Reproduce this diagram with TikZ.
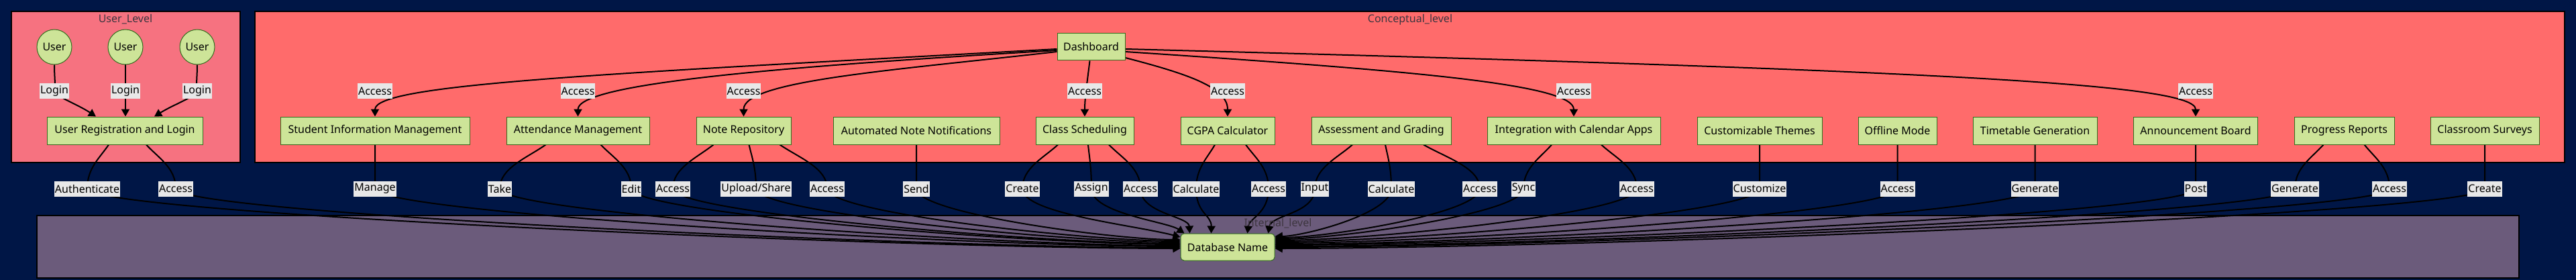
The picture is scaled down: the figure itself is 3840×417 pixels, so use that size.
\documentclass[tikz,border=0pt]{standalone}
\usepackage{fontspec}
\setmainfont{Noto Sans}
\usetikzlibrary{arrows.meta,calc}
\pgfdeclarelayer{back}
\pgfdeclarelayer{edges}
\pgfsetlayers{back,edges,main}
\definecolor{bgnavy}{RGB}{0,22,70}
\definecolor{userbg}{RGB}{246,114,128}
\definecolor{concbg}{RGB}{255,107,107}
\definecolor{intbg}{RGB}{107,91,123}
\definecolor{nodefill}{RGB}{205,228,152}
\definecolor{nodeline}{RGB}{50,110,30}
\definecolor{lblbg}{RGB}{232,232,232}
\definecolor{titlecol}{RGB}{62,54,64}
\tikzset{
  every node/.style={font=\fontsize{16pt}{19pt}\selectfont},
  boxnode/.style={rectangle, fill=nodefill, draw=nodeline, line width=1pt, minimum height=41pt, inner xsep=2pt, inner ysep=0pt, text=black},
  usernode/.style={circle, fill=nodefill, draw=nodeline, line width=1pt, minimum size=52pt, inner sep=0pt, text=black},
  dbnode/.style={boxnode, rounded corners=5pt, minimum height=40pt},
  lbl/.style={fill=lblbg, inner xsep=1pt, inner ysep=0pt, minimum height=23pt, text=black},
  cluster/.style={draw=black, line width=2pt},
  ctitle/.style={text=titlecol},
  conn/.style={draw=black, line width=2pt, -{Triangle[length=11pt,width=12pt]}},
}
% #1 src node, #2 src dx, #3 c1x, #4 label x, #5 label node, #6 c2x, #7 c2y, #8 target
\newcommand{\ledge}[8]{%
  \draw[conn] ([xshift=#2pt]#1.south) .. controls (#3,235) and (#4,250) .. (#5.center)
     .. controls (#4,318) and (#6,#7) .. (#8);
}
\begin{document}
\begin{tikzpicture}[x=1pt,y=-1pt]
\useasboundingbox (0,0) rectangle (3840,417);
\begin{pgfonlayer}{back}
  \fill[bgnavy] (0,0) rectangle (3840,417);
  \filldraw[cluster, fill=userbg] (17,17) rectangle (358,242);
  \filldraw[cluster, fill=concbg] (380,17) rectangle (3823,242);
  \filldraw[cluster, fill=intbg] (55,321) rectangle (3755,414);
\end{pgfonlayer}

% cluster titles
\node[ctitle] (tuser) at (187,29) {User\_Level};
\node[ctitle] (tconc) at (2102,29) {Conceptual\_level};
\node[ctitle] (tint) at (1905,333) {Internal\_level};

% user level
\node[usernode] (u1) at (81,70) {User};
\node[usernode] (u2) at (187,70) {User};
\node[usernode] (u3) at (294,70) {User};
\node[boxnode, minimum width=232pt] (url) at (186,194.5) {User Registration and Login};

% conceptual level
\node[boxnode, minimum width=101pt, minimum height=40pt] (dash) at (1626.5,70) {Dashboard};
\node[boxnode, minimum width=282pt] (sim) at (559,194.5) {Student Information Management};
\node[boxnode, minimum width=213pt] (att) at (861.5,194.5) {Attendance Management};
\node[boxnode, minimum width=141pt] (note) at (1108.5,194.5) {Note Repository};
\node[boxnode, minimum width=248pt] (auto) at (1366,194.5) {Automated Note Notifications};
\node[boxnode, minimum width=146pt] (cs) at (1617,194.5) {Class Scheduling};
\node[boxnode, minimum width=140pt] (cgpa) at (1830,194.5) {CGPA Calculator};
\node[boxnode, minimum width=208pt] (ass) at (2059,194.5) {Assessment and Grading};
\node[boxnode, minimum width=258pt] (int) at (2346,194.5) {Integration with Calendar Apps};
\node[boxnode, minimum width=186pt] (cust) at (2623,194.5) {Customizable Themes};
\node[boxnode, minimum width=117pt] (off) at (2828.5,194.5) {Offline Mode};
\node[boxnode, minimum width=185pt] (tt) at (3033.5,194.5) {Timetable Generation};
\node[boxnode, minimum width=185pt] (ann) at (3273,194.5) {Announcement Board};
\node[boxnode, minimum width=149pt] (prog) at (3494.5,194.5) {Progress Reports};
\node[boxnode, minimum width=162pt] (cls) at (3704,194.5) {Classroom Surveys};

% internal level
\node[dbnode, minimum width=140pt] (db) at (1830,368) {Database Name};

% labels: login
\node[lbl] (lg1) at (81,135.5) {Login};
\node[lbl] (lg2) at (187,135.5) {Login};
\node[lbl] (lg3) at (294,135.5) {Login};
% labels: dashboard access
\node[lbl] (a1) at (559,135.5) {Access};
\node[lbl] (a2) at (861.5,135.5) {Access};
\node[lbl] (a3) at (1108.5,135.5) {Access};
\node[lbl] (a4) at (1617,135.5) {Access};
\node[lbl] (a5) at (1830,135.5) {Access};
\node[lbl] (a6) at (2346,135.5) {Access};
\node[lbl] (a7) at (3273,135.5) {Access};
% labels: to database
\node[lbl] (b1) at (130,281) {Authenticate};
\node[lbl] (b2) at (262,281) {Access};
\node[lbl] (b3) at (559,281) {Manage};
\node[lbl] (b4) at (745,281) {Take};
\node[lbl] (b5) at (941,281) {Edit};
\node[lbl] (b6) at (1003,281) {Access};
\node[lbl] (b7) at (1127,281) {Upload/Share};
\node[lbl] (b8) at (1233,281) {Access};
\node[lbl] (b9) at (1366,281) {Send};
\node[lbl] (b10) at (1524,281) {Create};
\node[lbl] (b11) at (1627,281) {Assign};
\node[lbl] (b12) at (1700,281) {Access};
\node[lbl] (b13) at (1783,281) {Calculate};
\node[lbl] (b14) at (1891,281) {Access};
\node[lbl] (b15) at (1960,281) {Input};
\node[lbl] (b16) at (2074,281) {Calculate};
\node[lbl] (b17) at (2206,281) {Access};
\node[lbl] (b18) at (2271,281) {Sync};
\node[lbl] (b19) at (2440,281) {Access};
\node[lbl] (b20) at (2623,281) {Customize};
\node[lbl] (b21) at (2828.5,281) {Access};
\node[lbl] (b22) at (3033.5,281) {Generate};
\node[lbl] (b23) at (3273,281) {Post};
\node[lbl] (b24) at (3421,281) {Generate};
\node[lbl] (b25) at (3562,281) {Access};
\node[lbl] (b26) at (3704,281) {Create};

\begin{pgfonlayer}{edges}
  % users to registration
  \draw[conn] (u1.south) .. controls (81,115) and (83,125) .. (lg1.center)
      .. controls (85,145) and (115,155) .. ([xshift=-43pt]url.north);
  \draw[conn] (u2.south) -- (lg2.center) -- (u2.south |- url.north);
  \draw[conn] (u3.south) .. controls (294,115) and (292,125) .. (lg3.center)
      .. controls (290,145) and (260,155) .. ([xshift=44pt]url.north);
  % dashboard to modules
  \draw[conn] ([yshift=-3pt]dash.west) .. controls (900,110) and (559,125) .. (sim.north);
  \draw[conn] ([yshift=-5pt]dash.west) .. controls (1150,100) and (861.5,125) .. (att.north);
  \draw[conn] ([yshift=-7pt]dash.west) .. controls (1330,105) and (1108.5,120) .. (note.north);
  \draw[conn] ([xshift=-2pt]dash.south) .. controls (1621,120) and (1617,145) .. (cs.north);
  \draw[conn] ([yshift=-16pt]dash.east) .. controls (1770,110) and (1830,130) .. (cgpa.north);
  \draw[conn] ([yshift=-7pt]dash.east) .. controls (2100,105) and (2346,125) .. (int.north);
  \draw[conn] ([yshift=-3pt]dash.east) .. controls (2900,105) and (3273,125) .. (ann.north);
  % modules to database, left side
  \ledge{url}{-24}{149}{130}{b1}{1352}{370}{[yshift=-2pt]db.west}
  \ledge{url}{32}{236}{262}{b2}{1385}{369}{[yshift=-1pt]db.west}
  \ledge{sim}{0}{559}{559}{b3}{1460}{367}{[yshift=1pt]db.west}
  \ledge{att}{-48}{786}{745}{b4}{1506}{366}{[yshift=2pt]db.west}
  \ledge{att}{34}{914}{941}{b5}{1555}{364}{[yshift=4pt]db.west}
  \ledge{note}{-45}{1039}{1003}{b6}{1571}{363}{[yshift=5pt]db.west}
  \ledge{note}{8}{1121}{1127}{b7}{1602}{361}{[yshift=7pt]db.west}
  \ledge{note}{54}{1191}{1233}{b8}{1628}{359}{[yshift=9pt]db.west}
  \ledge{auto}{0}{1366}{1366}{b9}{1661}{357}{[yshift=11pt]db.west}
  \ledge{cs}{-40}{1556}{1524}{b10}{1690}{335}{[yshift=15pt]db.west}
  % top
  \ledge{cs}{5}{1624}{1627}{b11}{1740}{330}{[xshift=6pt]db.north west}
  \ledge{cs}{36}{1672}{1700}{b12}{1772}{322}{[xshift=14pt]db.north west}
  \ledge{cgpa}{-19}{1800}{1783}{b13}{1806}{320}{[xshift=46pt]db.north west}
  \ledge{cgpa}{27}{1871}{1891}{b14}{1862}{325}{[xshift=100pt]db.north west}
  \ledge{ass}{-43}{1994}{1960}{b15}{1895}{320}{[xshift=131pt]db.north west}
  % right side
  \ledge{ass}{6}{2069}{2074}{b16}{1943}{352}{[yshift=16pt]db.east}
  \ledge{ass}{63}{2156}{2206}{b17}{1976}{354}{[yshift=14pt]db.east}
  \ledge{int}{-33}{2296}{2271}{b18}{1993}{356}{[yshift=12pt]db.east}
  \ledge{int}{41}{2408}{2440}{b19}{2035}{358}{[yshift=10pt]db.east}
  \ledge{cust}{0}{2623}{2623}{b20}{2081}{360}{[yshift=8pt]db.east}
  \ledge{off}{0}{2828.5}{2828.5}{b21}{2132}{362}{[yshift=6pt]db.east}
  \ledge{tt}{0}{3033.5}{3033.5}{b22}{2183}{364}{[yshift=4pt]db.east}
  \ledge{ann}{0}{3273}{3273}{b23}{2243}{365}{[yshift=3pt]db.east}
  \ledge{prog}{-31}{3446}{3421}{b24}{2280}{367}{[yshift=1pt]db.east}
  \ledge{prog}{30}{3540}{3562}{b25}{2315}{368}{db.east}
  \ledge{cls}{0}{3704}{3704}{b26}{2351}{370}{[yshift=-2pt]db.east}
\end{pgfonlayer}
\end{tikzpicture}
\end{document}
